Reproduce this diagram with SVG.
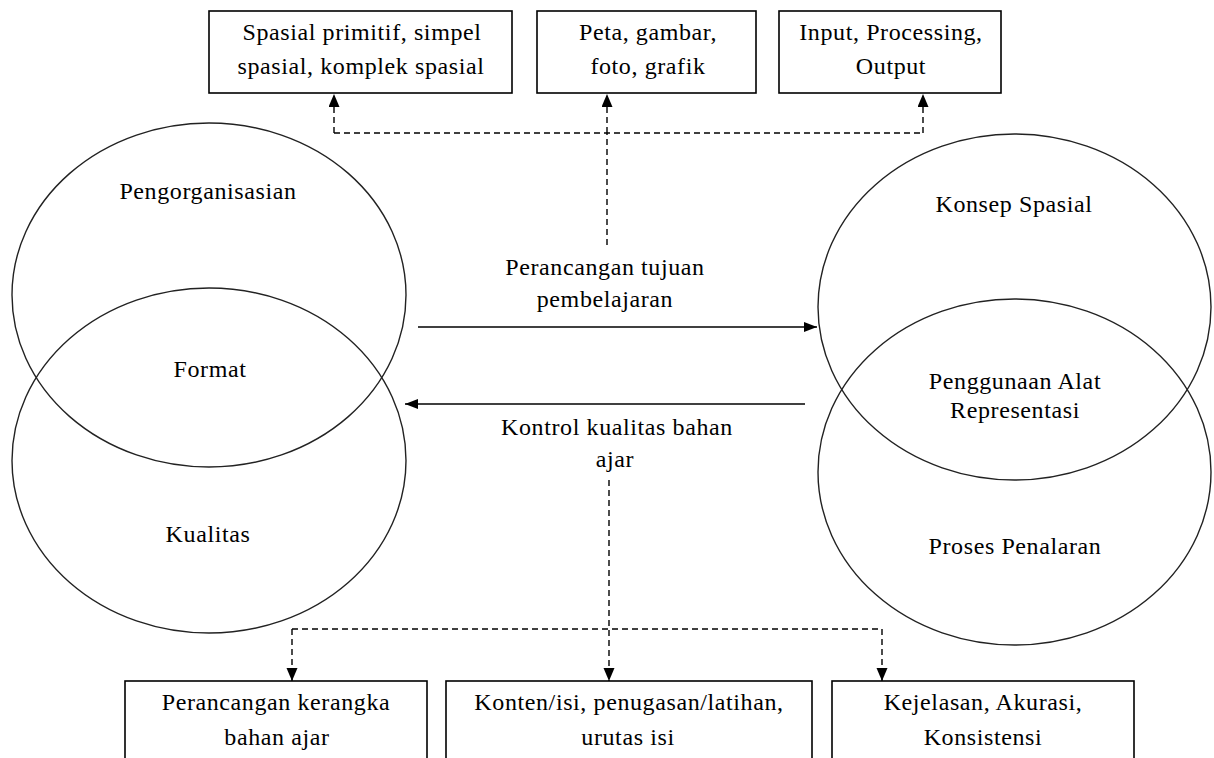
<svg xmlns="http://www.w3.org/2000/svg" width="1214" height="758" viewBox="0 0 1214 758">
  <style>
    .t { font-family: "Liberation Serif", "Times New Roman", serif; font-size: 24px; letter-spacing: 0.6px; fill: #000; text-anchor: middle; }
    .box { fill: #fff; stroke: #000; stroke-width: 1.6; }
    .ell { fill: none; stroke: #222; stroke-width: 1.4; }
    .solid { fill: none; stroke: #000; stroke-width: 1.6; }
    .dash { fill: none; stroke: #000; stroke-width: 1.4; stroke-dasharray: 6 4; }
  </style>
  <defs>
    <marker id="ah" markerUnits="userSpaceOnUse" markerWidth="14" markerHeight="12" refX="13" refY="5.5" orient="auto">
      <path d="M0,0 L13,5.5 L0,11 z" fill="#000"/>
    </marker>
    <marker id="ahs" markerUnits="userSpaceOnUse" markerWidth="14" markerHeight="12" refX="13" refY="5" orient="auto">
      <path d="M0,0 L13,5 L0,10 z" fill="#000"/>
    </marker>
  </defs>
  <rect width="1214" height="758" fill="#fff"/>

  <g id="ellipses-left">
    <g id="node-pengorganisasian">
      <ellipse class="ell" cx="209" cy="295" rx="197" ry="172"/>
      <text class="t" x="208" y="199">Pengorganisasian</text>
    </g>
    <g id="node-kualitas">
      <ellipse class="ell" cx="209" cy="460.5" rx="197" ry="172.5"/>
      <text class="t" x="208" y="542">Kualitas</text>
    </g>
    <g id="node-format">
      <text class="t" x="210" y="377">Format</text>
    </g>
  </g>

  <g id="ellipses-right">
    <g id="node-konsep">
      <ellipse class="ell" cx="1014.5" cy="307" rx="196.5" ry="173"/>
      <text class="t" x="1014" y="212">Konsep Spasial</text>
    </g>
    <g id="node-proses">
      <ellipse class="ell" cx="1014.5" cy="472" rx="196.5" ry="173"/>
      <text class="t" x="1015" y="554">Proses Penalaran</text>
    </g>
    <g id="node-penggunaan">
      <text class="t" x="1015" y="389">Penggunaan Alat</text>
      <text class="t" x="1015" y="418">Representasi</text>
    </g>
  </g>

  <g id="node-top1">
    <rect class="box" x="209" y="11" width="303" height="82"/>
    <text class="t" x="362" y="40">Spasial primitif, simpel</text>
    <text class="t" x="361" y="74">spasial, komplek spasial</text>
  </g>
  <g id="node-top2">
    <rect class="box" x="537" y="11" width="219" height="82"/>
    <text class="t" x="648" y="40">Peta, gambar,</text>
    <text class="t" x="648" y="74">foto, grafik</text>
  </g>
  <g id="node-top3">
    <rect class="box" x="779" y="11" width="222" height="82"/>
    <text class="t" x="891" y="40">Input, Processing,</text>
    <text class="t" x="891" y="74">Output</text>
  </g>

  <g id="node-bot1">
    <rect class="box" x="125" y="681" width="302" height="82"/>
    <text class="t" x="276" y="710">Perancangan kerangka</text>
    <text class="t" x="277" y="745">bahan ajar</text>
  </g>
  <g id="node-bot2">
    <rect class="box" x="446" y="681" width="366" height="82"/>
    <text class="t" x="629" y="710">Konten/isi, penugasan/latihan,</text>
    <text class="t" x="628" y="745">urutas isi</text>
  </g>
  <g id="node-bot3">
    <rect class="box" x="832" y="681" width="302" height="82"/>
    <text class="t" x="983" y="710">Kejelasan, Akurasi,</text>
    <text class="t" x="983" y="745">Konsistensi</text>
  </g>

  <g id="labels">
    <text class="t" x="605" y="275">Perancangan tujuan</text>
    <text class="t" x="605" y="307">pembelajaran</text>
    <text class="t" x="617" y="435">Kontrol kualitas bahan</text>
    <text class="t" x="615" y="467">ajar</text>
  </g>

  <g id="connectors">
    <line class="solid" x1="418" y1="327" x2="817" y2="327" marker-end="url(#ahs)"/>
    <line class="solid" x1="805" y1="404" x2="405" y2="404" marker-end="url(#ahs)"/>

    <line class="dash" x1="607" y1="245" x2="607" y2="133"/>
    <line class="dash" x1="334" y1="133" x2="923" y2="133"/>
    <line class="dash" x1="334" y1="133" x2="334" y2="94" marker-end="url(#ah)"/>
    <line class="dash" x1="607" y1="133" x2="607" y2="94" marker-end="url(#ah)"/>
    <line class="dash" x1="923" y1="133" x2="923" y2="94" marker-end="url(#ah)"/>

    <line class="dash" x1="292" y1="629" x2="882" y2="629"/>
    <line class="dash" x1="609" y1="480" x2="609" y2="681" marker-end="url(#ah)"/>
    <line class="dash" x1="292" y1="629" x2="292" y2="681" marker-end="url(#ah)"/>
    <line class="dash" x1="882" y1="629" x2="882" y2="681" marker-end="url(#ah)"/>
  </g>
</svg>
